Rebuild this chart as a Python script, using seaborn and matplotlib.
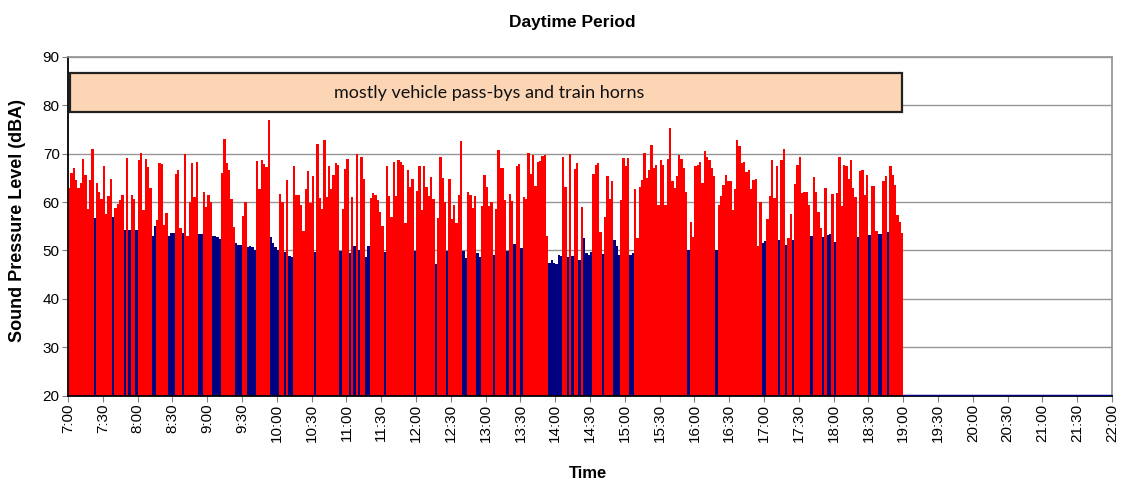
import numpy as np
import pandas as pd
import seaborn as sns
import matplotlib
matplotlib.use("Agg")
import matplotlib.pyplot as plt
from matplotlib.patches import Rectangle

# 2-minute bins from 7:00 to 19:00, level in dBA
start_hour = 7.0
bin_minutes = 2
levels = [
    63, 66, 67, 64.5, 63, 64, 69, 65.5, 58.5, 64.5,
    71, 56.7, 64, 62, 60.7, 67.5, 57.5, 61.2, 64.8, 56.9,
    58.8, 59.5, 60.5, 61.5, 54.3, 69.2, 54.3, 61.5, 60.7, 54.3,
    68.6, 70.1, 58.4, 69, 67.2, 62.9, 52.9, 55, 56.3, 68.1,
    67.9, 55.3, 57.7, 53, 53.6, 53.6, 65.9, 66.7, 54.6, 53.6,
    70, 53, 60, 68, 61, 68.2, 53.3, 53.3, 62, 59,
    61.5, 60, 53, 53, 52.8, 52.3, 66, 73, 68, 66.7,
    60.7, 54.8, 51.6, 51.2, 51.1, 57.2, 60.1, 50.8, 50.9, 50.8,
    50.1, 68.4, 62.6, 68.8, 67.9, 67.2, 77, 52.8, 51.6, 50.8,
    50.1, 61.7, 60, 49.7, 64.5, 48.8, 48.7, 67.5, 61.5, 61.5,
    59.4, 54, 62.6, 66.5, 59.8, 65.3, 49.7, 72, 60.8, 58.5,
    72.9, 61, 67.4, 62.7, 65.7, 68.1, 67.7, 49.8, 58.6, 66.8,
    68.9, 49.4, 61, 51, 70, 50, 69.4, 64.8, 48.7, 51,
    60.8, 61.9, 61.5, 60.5, 58, 55, 49.6, 67.4, 61.2, 56.9,
    68.2, 61.2, 68.6, 68.3, 67.7, 55.7, 66.6, 63.2, 64.8, 49.8,
    62.2, 67.4, 58.3, 67.4, 63.2, 61.2, 65.1, 60.7, 47.2, 56.7,
    69.4, 65, 60.1, 49.8, 64.8, 56.5, 59.4, 55.7, 61.5, 72.6,
    49.8, 48.4, 62, 61.5, 58.8, 61.3, 49.4, 48.7, 59.2, 65.7,
    63.1, 59.1, 60.1, 49.1, 58.6, 70.7, 67, 67, 60.5, 49.8,
    61.7, 60.3, 51.4, 67.4, 67.9, 50.5, 61, 60.7, 70.1, 65.9,
    69.7, 63.4, 68.2, 68.4, 69.6, 69.8, 53, 47.5, 48, 47.5,
    47.2, 49.1, 48.8, 69.3, 63.2, 48.6, 70, 48.9, 66.8, 68,
    48, 58.9, 52.6, 49.4, 49.1, 49.6, 65.9, 67.6, 68.1, 53.9,
    49.3, 56.9, 65.3, 60.7, 64.3, 52.2, 51, 49.1, 60.5, 69.1,
    67.4, 69.1, 49, 49.4, 62.8, 52.5, 63.1, 64.6, 70.1, 65,
    66.6, 71.9, 67, 67.7, 59.4, 68.6, 67.7, 59.4, 68.9, 75.3,
    64.3, 62.9, 65.3, 69.8, 68.9, 67, 62, 50, 55.8, 52.8,
    67.4, 67.6, 68.3, 63.9, 70.5, 69.3, 68.8, 67, 65.3, 50.1,
    59.4, 61.3, 63.5, 65.7, 64.4, 64.3, 58.4, 62.6, 72.9, 71.5,
    68.1, 68.3, 66.3, 66.7, 62.8, 64.6, 64.8, 51, 60.1, 51.5,
    51.9, 56.6, 61.2, 68.8, 60.8, 67.4, 52.2, 68.6, 71, 51.2,
    52.6, 57.6, 52.2, 63.8, 67.7, 69.3, 61.9, 62, 62, 59.4,
    53, 65.2, 62, 57.9, 54.6, 52.8, 62.9, 53.2, 53.4, 61.7,
    51.7, 61.9, 69.3, 59.1, 67.7, 67.4, 64.8, 68.6, 62.9, 61,
    52.8, 66.5, 66.7, 61.5, 65.7, 53.2, 63.4, 63.4, 54.1, 53.4,
    53.4, 64.3, 65.4, 53.9, 67.5, 65.7, 63.6, 57.4, 55.8, 53.7,
]
# R = event (vehicle / horn), N = background
events = (
    "RRRRRRRRRR" "RNRRRRRRRN" "RRRRNRNRRN" "RRRRRRNNRR" "RRRNNNRRRN"
    "RRRRRRNNRR" "RRNNNNRRRR" "RRNNNRRNNN" "NRRRRRRNNN" "NRRNRNNRRR"
    "RRRRRRNRRR" "RRRRRRRNRR" "RNRNRNRRNN" "RRRRRRNRRR" "RRRRRRRRRN"
    "RRRRRRRRNR" "RRRNRRRRRR" "NNRRRRNNRR" "RRRNRRRRRN" "RRNRRNRRRR"
    "RRRRRRRNNN" "NNNRRNRNRR" "NRNNNNRRRR" "NRRRRNNNRR" "RRNNRRRRRR"
    "RRRRRRRRRR" "RRRRRRRNRR" "RRRRRRRRRN" "RRRRRRRRRR" "RRRRRRRRRN"
    "NRRRRRNRRN" "RRNRRRRRRR" "NRRRRNRNNR" "NRRRRRRRRR" "NRRRRNRRRN"
    "NRRNRRRRRR"
)
# evening: meter reading flat at the axis floor
evening_hours = [19.0, 22.0]
evening_level = [20, 20]

annotation = "mostly vehicle pass-bys and train horns"
tick_hours = np.arange(7, 22.01, 0.5)
tick_labels = [f"{int(h)}:{'30' if h % 1 else '00'}" for h in tick_hours]

df = pd.DataFrame({"level": levels, "kind": list(events)})
df["hour"] = start_hour + df.index * bin_minutes / 60.0

sns.set_theme(style="white")
plt.rcParams["font.family"] = ["Liberation Sans", "DejaVu Sans"]
plt.rcParams["text.color"] = "black"
plt.rcParams["xtick.color"] = "black"
plt.rcParams["ytick.color"] = "black"

fig = plt.figure(figsize=(11.23, 4.86), dpi=100)
ax = fig.add_axes([68 / 1123, 1 - 395.5 / 486, (1112 - 68) / 1123, (395.5 - 57) / 486])

palette = {"R": "#FF0000", "N": "#000080"}
ax.bar(df["hour"], df["level"] - 20, bottom=20, width=bin_minutes / 60.0,
       align="edge", color=df["kind"].map(palette), linewidth=0, zorder=2)
sns.lineplot(x=evening_hours, y=evening_level, ax=ax, color="#000080",
             linewidth=2.5, zorder=3)

ax.set_xlim(7, 22)
ax.set_ylim(20, 90)
ax.set_yticks(range(20, 91, 10))
ax.set_xticks(tick_hours)
ax.set_xticklabels(tick_labels, rotation=90, fontsize=11)
ax.tick_params(axis="y", labelsize=11)
ax.tick_params(axis="both", direction="out", length=4, width=0.8,
               color="#808080", labelcolor="black", pad=2,
               bottom=True, left=True)
for y in range(30, 91, 10):
    ax.axhline(y, color="#969696", linewidth=1, zorder=1)

ax.spines["left"].set_color("black")
ax.spines["bottom"].set_color("black")
ax.spines["left"].set_linewidth(1.3)
ax.spines["bottom"].set_linewidth(1.3)
ax.spines["top"].set_color("#969696")
ax.spines["right"].set_color("#969696")

# label box for the event period
ax.add_patch(Rectangle((7.03, 78.6), 18.98 - 7.03, 86.7 - 78.6,
                       facecolor="#FCD5B4", edgecolor="#222222",
                       linewidth=1.6, zorder=4))
ax.text(13.05, 82.6, annotation, ha="center", va="center", fontsize=13,
        family=["Lato", "DejaVu Sans"], color="#111111", zorder=5)

fig.text(572 / 1123, 1 - 22 / 486, "Daytime Period", ha="center", va="center",
         fontsize=12.5, fontweight="bold")
fig.text(588 / 1123, 1 - 473 / 486, "Time", ha="center", va="center",
         fontsize=12, fontweight="bold")
fig.text(18 / 1123, 1 - 220 / 486, "Sound Pressure Level (dBA)", ha="center",
         va="center", rotation=90, fontsize=13, fontweight="bold")

fig.savefig("out.png", dpi=100)
